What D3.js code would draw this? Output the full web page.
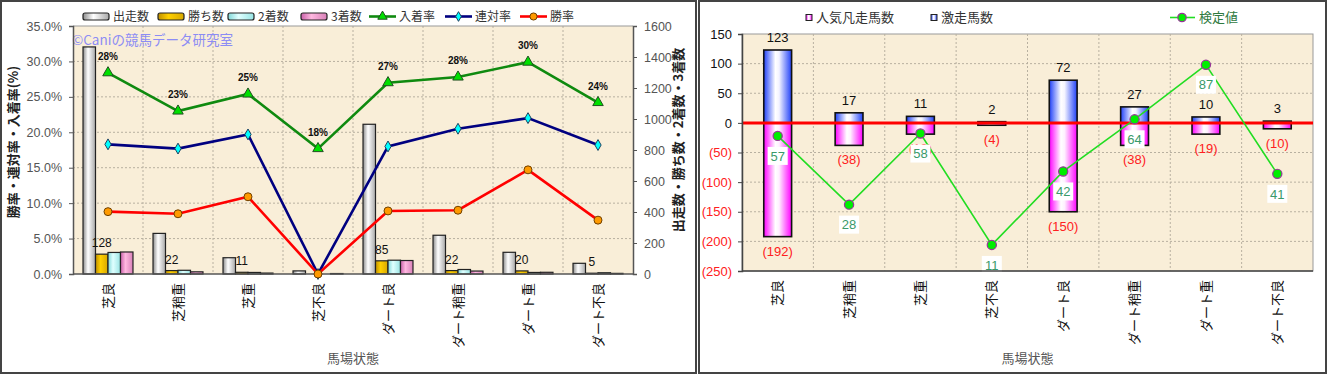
<!DOCTYPE html>
<html lang="ja">
<head>
<meta charset="utf-8" />
<title>馬場状態別成績</title>
<script src="https://d3js.org/d3.v7.min.js"></script>
<style>
  body { margin: 0; background: #ffffff; }
  svg text { font-family: "Noto Sans CJK JP", "DejaVu Sans", sans-serif; }
  svg .num { font-family: "Liberation Sans", Arial, sans-serif; }
</style>
</head>
<body>
<div id="chart"></div>
<script>
// Track conditions (shared by both charts)
const categories = ["芝良", "芝稍重", "芝重", "芝不良", "ダート良", "ダート稍重", "ダート重", "ダート不良"];

// Left chart - counts (right axis)
const runs = [1465, 262, 105, 20, 966, 250, 140, 69];
const wins = [128, 22, 11, 0, 85, 22, 20, 5];
const seconds = [139, 24, 10, 0, 89, 29, 10, 8];
const thirds = [142, 14, 6, 3, 87, 19, 11, 4];

// Left chart - rates in % (left axis)
const placeRate = [28.4, 23.0, 25.4, 17.7, 27.0, 27.8, 29.9, 24.2];
const quinellaRate = [18.3, 17.7, 19.7, 0, 18.0, 20.5, 22.0, 18.2];
const winRate = [8.8, 8.5, 10.9, 0, 8.9, 9.0, 14.7, 7.6];

// Left chart ticks
const rateTicks = [0, 5, 10, 15, 20, 25, 30, 35];
const countTicks = [0, 200, 400, 600, 800, 1000, 1200, 1400, 1600];

// Right chart
const gekisoCount = [123, 17, 11, 2, 72, 27, 10, 3];
const bonsoCount = [192, 38, 19, 4, 150, 38, 19, 10];
const kenteiValue = [57, 28, 58, 11, 42, 64, 87, 41];
const diffTicks = [-250, -200, -150, -100, -50, 0, 50, 100, 150];

const svg = d3.select("#chart").append("svg").attr("width", 1328).attr("height", 375);
const defs = svg.append("defs");

// horizontal gradients for the cylinder-looking bars
function hGradient(id, stops) {
  const g = defs.append("linearGradient").attr("id", id)
    .attr("x1", "0%").attr("x2", "100%").attr("y1", "0%").attr("y2", "0%");
  stops.forEach(([o, c]) => g.append("stop").attr("offset", o).attr("stop-color", c));
}
hGradient("gRuns", [["0%", "#8c8c8c"], ["40%", "#ffffff"], ["100%", "#a8a8a8"]]);
hGradient("gWins", [["0%", "#c09000"], ["40%", "#ffd000"], ["100%", "#d8a800"]]);
hGradient("gSeconds", [["0%", "#80d8d8"], ["40%", "#e0ffff"], ["100%", "#98e4e4"]]);
hGradient("gThirds", [["0%", "#c860a8"], ["40%", "#ffb8e0"], ["100%", "#d880b8"]]);
hGradient("gBlue", [["0%", "#2040f8"], ["42%", "#ffffff"], ["55%", "#f4f4ff"], ["100%", "#2040f8"]]);
hGradient("gMagenta", [["0%", "#ff00ff"], ["42%", "#ffffff"], ["55%", "#fff0ff"], ["100%", "#ff00ff"]]);

// panel frames
svg.append("rect").attr("x", 1).attr("y", 1).attr("width", 695).attr("height", 372)
  .attr("fill", "none").attr("stroke", "#444").attr("stroke-width", 2);
svg.append("rect").attr("x", 699).attr("y", 1).attr("width", 627).attr("height", 372)
  .attr("fill", "none").attr("stroke", "#444").attr("stroke-width", 2);

const plotBg = "#f9eed8";
const gridColor = "#b8b0a0";

// ================= LEFT CHART =================
const L = { left: 73, right: 633, top: 26, bottom: 274 };
const xL = d3.scaleBand().domain(categories).range([L.left, L.right]);
const yRate = d3.scaleLinear().domain([0, 35]).range([L.bottom, L.top]);
const yCount = d3.scaleLinear().domain([0, 1600]).range([L.bottom, L.top]);

svg.append("rect").attr("x", L.left).attr("y", L.top)
  .attr("width", L.right - L.left).attr("height", L.bottom - L.top).attr("fill", plotBg);

// grid
svg.append("g").selectAll("line").data(rateTicks.slice(1, -1)).join("line")
  .attr("x1", L.left).attr("x2", L.right)
  .attr("y1", d => yRate(d)).attr("y2", d => yRate(d))
  .attr("stroke", gridColor).attr("stroke-dasharray", "2,2");
svg.append("g").selectAll("line").data(categories.slice(1)).join("line")
  .attr("x1", d => xL(d)).attr("x2", d => xL(d))
  .attr("y1", L.top).attr("y2", L.bottom)
  .attr("stroke", gridColor).attr("stroke-dasharray", "2,2");
svg.append("line").attr("x1", L.left).attr("x2", L.right).attr("y1", L.top).attr("y2", L.top)
  .attr("stroke", "#999");

// watermark
svg.append("text").attr("x", 72).attr("y", 45).attr("font-size", 13.5)
  .attr("fill", "#8c8cf4").text("©Caniの競馬データ研究室");

// bars
const barSeries = [
  { key: "出走数", values: runs, fill: "url(#gRuns)" },
  { key: "勝ち数", values: wins, fill: "url(#gWins)" },
  { key: "2着数", values: seconds, fill: "url(#gSeconds)" },
  { key: "3着数", values: thirds, fill: "url(#gThirds)" },
];
const xSub = d3.scaleBand().domain(barSeries.map(s => s.key))
  .range([xL.bandwidth() * 0.143, xL.bandwidth() * 0.857]);

barSeries.forEach(s => {
  svg.append("g").selectAll("rect").data(categories).join("rect")
    .attr("x", c => xL(c) + xSub(s.key))
    .attr("y", (c, i) => yCount(s.values[i]))
    .attr("width", xSub.bandwidth())
    .attr("height", (c, i) => L.bottom - yCount(s.values[i]))
    .attr("fill", s.fill).attr("stroke", "#222").attr("stroke-width", 1.2);
});

// win count labels
svg.append("g").selectAll("text").data(categories.filter((c, i) => wins[i] > 0)).join("text")
  .attr("class", "num")
  .attr("x", c => xL(c) + xSub("勝ち数") + xSub.bandwidth() / 2)
  .attr("y", c => yCount(wins[categories.indexOf(c)]) - 7)
  .attr("text-anchor", "middle").attr("font-size", 12).attr("fill", "#111")
  .text(c => wins[categories.indexOf(c)]);

// axes
const axL = svg.append("g").attr("transform", `translate(${L.left},0)`)
  .call(d3.axisLeft(yRate).tickValues(rateTicks).tickFormat(d => d.toFixed(1) + "%").tickSize(4).tickPadding(7));
const axR = svg.append("g").attr("transform", `translate(${L.right},0)`)
  .call(d3.axisRight(yCount).tickValues(countTicks).tickFormat(d => String(d)).tickSize(4).tickPadding(7));
[axL, axR].forEach(a => {
  a.select(".domain").attr("stroke", "#555").attr("stroke-width", 1.5);
  a.selectAll(".tick line").attr("stroke", "#555");
  a.selectAll("text").attr("class", "num").attr("font-size", 12.5).attr("fill", "#555");
});
svg.append("line").attr("x1", L.left).attr("x2", L.right).attr("y1", L.bottom).attr("y2", L.bottom)
  .attr("stroke", "#555").attr("stroke-width", 1.5);

// lines with markers
const lineSeries = [
  { key: "入着率", values: placeRate, color: "#0f8a0f", type: d3.symbolTriangle, size: 48, mfill: "#00e000", mstroke: "#205020" },
  { key: "連対率", values: quinellaRate, color: "#000080", type: d3.symbolDiamond, size: 34, mfill: "#00ffff", mstroke: "#204060" },
  { key: "勝率", values: winRate, color: "#ff0000", type: d3.symbolCircle, size: 50, mfill: "#ff9a00", mstroke: "#704000" },
];
const cx = c => xL(c) + xL.bandwidth() / 2;
lineSeries.forEach(s => {
  svg.append("path")
    .datum(categories)
    .attr("fill", "none").attr("stroke", s.color).attr("stroke-width", 2.6)
    .attr("d", d3.line().x(c => cx(c)).y((c, i) => yRate(s.values[i])));
  svg.append("g").selectAll("path").data(categories).join("path")
    .attr("transform", (c, i) => `translate(${cx(c)},${yRate(s.values[i])})`)
    .attr("d", d3.symbol().type(s.type).size(s.size))
    .attr("fill", s.mfill).attr("stroke", s.mstroke).attr("stroke-width", 1);
});

// place rate labels
svg.append("g").selectAll("text").data(categories).join("text")
  .attr("class", "num")
  .attr("x", c => cx(c))
  .attr("y", (c, i) => yRate(placeRate[i]) - 13)
  .attr("text-anchor", "middle").attr("font-size", 10).attr("font-weight", "bold").attr("fill", "#111")
  .text((c, i) => Math.round(placeRate[i]) + "%");

// category labels
svg.append("g").selectAll("text").data(categories).join("text")
  .attr("transform", c => `translate(${cx(c)},283) rotate(-90)`)
  .attr("text-anchor", "end").attr("dy", "0.35em")
  .attr("font-size", 13).attr("fill", "#111").text(c => c);

// axis titles
svg.append("text").attr("transform", "translate(13,142) rotate(-90)")
  .attr("text-anchor", "middle").attr("dy", "0.35em").attr("font-size", 13).attr("font-weight", "bold")
  .attr("fill", "#222").text("勝率・連対率・入着率(%)");
svg.append("text").attr("transform", "translate(678,140) rotate(-90)")
  .attr("text-anchor", "middle").attr("dy", "0.35em").attr("font-size", 13).attr("font-weight", "bold")
  .attr("fill", "#222").text("出走数・勝ち数・2着数・3着数");
svg.append("text").attr("x", (L.left + L.right) / 2).attr("y", 363)
  .attr("text-anchor", "middle").attr("font-size", 13).attr("fill", "#555").text("馬場状態");

// legend
const legL = [
  { key: "出走数", x: 83, bar: "url(#gRuns)" },
  { key: "勝ち数", x: 158, bar: "url(#gWins)" },
  { key: "2着数", x: 228, bar: "url(#gSeconds)" },
  { key: "3着数", x: 301, bar: "url(#gThirds)" },
  { key: "入着率", x: 369, line: lineSeries[0] },
  { key: "連対率", x: 445, line: lineSeries[1] },
  { key: "勝率", x: 520, line: lineSeries[2] },
];
legL.forEach(d => {
  if (d.bar) {
    svg.append("rect").attr("x", d.x).attr("y", 13).attr("width", 26).attr("height", 7).attr("rx", 2)
      .attr("fill", d.bar).attr("stroke", "#222").attr("stroke-width", 1.2);
  } else {
    svg.append("line").attr("x1", d.x).attr("x2", d.x + 27).attr("y1", 16.5).attr("y2", 16.5)
      .attr("stroke", d.line.color).attr("stroke-width", 2.6);
    svg.append("path").attr("transform", `translate(${d.x + 13.5},16.5)`)
      .attr("d", d3.symbol().type(d.line.type).size(d.line.size * 0.8))
      .attr("fill", d.line.mfill).attr("stroke", d.line.mstroke);
  }
  svg.append("text").attr("x", d.x + 30).attr("y", 16.5).attr("dy", "0.35em")
    .attr("font-size", 12).attr("fill", "#333").text(d.key);
});

// ================= RIGHT CHART =================
const R = { left: 742, right: 1313, top: 34, bottom: 271 };
const xR = d3.scaleBand().domain(categories).range([R.left, R.right]);
const yR = d3.scaleLinear().domain([-250, 150]).range([R.bottom, R.top]);
const yK = d3.scaleLinear().domain([0, 100]).range([R.bottom, R.top]);
const cxR = c => xR(c) + xR.bandwidth() / 2;
const barW = xR.bandwidth() * 0.39;

svg.append("rect").attr("x", R.left).attr("y", R.top)
  .attr("width", R.right - R.left).attr("height", R.bottom - R.top)
  .attr("fill", plotBg).attr("stroke", "#999");

svg.append("g").selectAll("line").data(diffTicks.slice(1, -1)).join("line")
  .attr("x1", R.left).attr("x2", R.right)
  .attr("y1", d => yR(d)).attr("y2", d => yR(d))
  .attr("stroke", gridColor).attr("stroke-dasharray", "2,2");
svg.append("g").selectAll("line").data(categories.slice(1)).join("line")
  .attr("x1", d => xR(d)).attr("x2", d => xR(d))
  .attr("y1", R.top).attr("y2", R.bottom)
  .attr("stroke", gridColor).attr("stroke-dasharray", "2,2");

// 激走 bars (up) and 凡走 bars (down)
svg.append("g").selectAll("rect").data(categories).join("rect")
  .attr("x", c => cxR(c) - barW / 2)
  .attr("y", (c, i) => yR(gekisoCount[i]))
  .attr("width", barW)
  .attr("height", (c, i) => yR(0) - yR(gekisoCount[i]))
  .attr("fill", "url(#gBlue)").attr("stroke", "#111").attr("stroke-width", 1.6);
svg.append("g").selectAll("rect").data(categories).join("rect")
  .attr("x", c => cxR(c) - barW / 2)
  .attr("y", yR(0))
  .attr("width", barW)
  .attr("height", (c, i) => yR(-bonsoCount[i]) - yR(0))
  .attr("fill", "url(#gMagenta)").attr("stroke", "#111").attr("stroke-width", 1.6);

// bar labels
svg.append("g").selectAll("text").data(categories).join("text")
  .attr("class", "num")
  .attr("x", c => cxR(c)).attr("y", (c, i) => yR(gekisoCount[i]) - 8)
  .attr("text-anchor", "middle").attr("font-size", 13).attr("fill", "#111")
  .text((c, i) => gekisoCount[i]);
svg.append("g").selectAll("text").data(categories).join("text")
  .attr("class", "num")
  .attr("x", c => cxR(c)).attr("y", (c, i) => yR(-bonsoCount[i]) + 19)
  .attr("text-anchor", "middle").attr("font-size", 13).attr("fill", "#ff2020")
  .text((c, i) => `(${bonsoCount[i]})`);

// zero line
svg.append("line").attr("x1", R.left).attr("x2", R.right).attr("y1", yR(0)).attr("y2", yR(0))
  .attr("stroke", "#ff0000").attr("stroke-width", 3);

// 検定値 line
svg.append("path").datum(categories)
  .attr("fill", "none").attr("stroke", "#22dd22").attr("stroke-width", 1.6)
  .attr("d", d3.line().x(c => cxR(c)).y((c, i) => yK(kenteiValue[i])));
svg.append("g").selectAll("circle").data(categories).join("circle")
  .attr("cx", c => cxR(c)).attr("cy", (c, i) => yK(kenteiValue[i])).attr("r", 4.6)
  .attr("fill", "#00ee00").attr("stroke", "#993399").attr("stroke-width", 1.2);
const kLab = svg.append("g").selectAll("g").data(categories).join("g")
  .attr("transform", (c, i) => `translate(${cxR(c)},${yK(kenteiValue[i]) + 20})`);
kLab.append("rect").attr("x", -10).attr("y", -9).attr("width", 20).attr("height", 18).attr("fill", "#fff");
kLab.append("text").attr("class", "num").attr("text-anchor", "middle").attr("dy", "0.36em")
  .attr("font-size", 13).attr("fill", "#3a9a6a").text((c, i) => kenteiValue[i]);

// axes
const axR2 = svg.append("g").attr("transform", `translate(${R.left},0)`)
  .call(d3.axisLeft(yR).tickValues(diffTicks).tickFormat(d => d < 0 ? `(${-d})` : d).tickSize(4).tickPadding(6));
axR2.select(".domain").attr("stroke", "#444").attr("stroke-width", 1.5);
axR2.selectAll(".tick line").attr("stroke", "#444");
axR2.selectAll("text").attr("class", "num").attr("font-size", 13)
  .attr("fill", d => d < 0 ? "#ff2020" : "#111");
svg.append("line").attr("x1", R.left).attr("x2", R.right).attr("y1", R.bottom).attr("y2", R.bottom)
  .attr("stroke", "#444").attr("stroke-width", 1.5);

svg.append("g").selectAll("text").data(categories).join("text")
  .attr("transform", c => `translate(${cxR(c)},280) rotate(-90)`)
  .attr("text-anchor", "end").attr("dy", "0.35em")
  .attr("font-size", 13).attr("fill", "#111").text(c => c);
svg.append("text").attr("x", (R.left + R.right) / 2).attr("y", 363)
  .attr("text-anchor", "middle").attr("font-size", 13).attr("fill", "#555").text("馬場状態");

// legend
svg.append("rect").attr("x", 806).attr("y", 14.5).attr("width", 6).attr("height", 6)
  .attr("fill", "url(#gMagenta)").attr("stroke", "#222");
svg.append("text").attr("x", 816).attr("y", 17.5).attr("dy", "0.35em").attr("font-size", 13)
  .attr("fill", "#333").text("人気凡走馬数");
svg.append("rect").attr("x", 931).attr("y", 14.5).attr("width", 6).attr("height", 6)
  .attr("fill", "url(#gBlue)").attr("stroke", "#222");
svg.append("text").attr("x", 941).attr("y", 17.5).attr("dy", "0.35em").attr("font-size", 13)
  .attr("fill", "#333").text("激走馬数");
svg.append("line").attr("x1", 1170).attr("x2", 1195).attr("y1", 17.5).attr("y2", 17.5)
  .attr("stroke", "#22dd22").attr("stroke-width", 1.6);
svg.append("circle").attr("cx", 1182).attr("cy", 17.5).attr("r", 4.2)
  .attr("fill", "#00ee00").attr("stroke", "#993399").attr("stroke-width", 1.2);
svg.append("text").attr("x", 1199).attr("y", 17.5).attr("dy", "0.35em").attr("font-size", 13)
  .attr("fill", "#2f7a3f").text("検定値");
</script>
</body>
</html>
